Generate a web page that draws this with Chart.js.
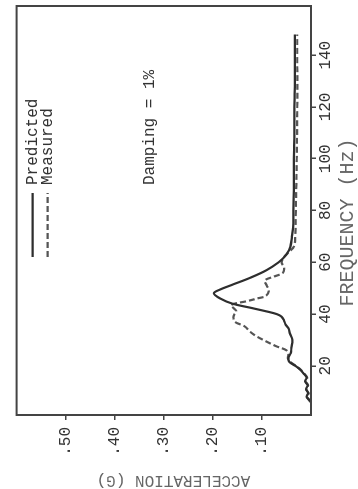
<!DOCTYPE html>
<html>
<head>
<meta charset="utf-8">
<script src="https://cdn.jsdelivr.net/npm/chart.js@4"></script>
<style>
  html, body { margin: 0; padding: 0; background: #fff; }
  body { width: 358px; height: 489px; overflow: hidden; position: relative; }
  /* the scanned page is turned a quarter turn, so the chart is drawn flat and rotated */
  #wrap {
    position: absolute; left: 0; top: 0;
    width: 489px; height: 358px;
    transform-origin: 0 0;
    transform: translate(0, 489px) rotate(-90deg);
  }
</style>
</head>
<body>
<div id="wrap"><canvas id="myChart" width="489" height="358"></canvas></div>
<script>
// values (frequency in Hz, acceleration in G)
var predFreq  = [6, 7, 8, 9.5, 11, 12.5, 14, 15.5, 17, 18.5, 20, 21.5, 23, 25, 27, 30, 32.5, 34.5, 36, 37.5, 39, 40, 41, 42.5, 44, 46, 48, 49.5, 51.5, 54, 57, 60, 63, 66, 70, 75, 80, 90, 100, 110, 120, 130, 140, 148];
var predAccel = [0.000, 0.004, 0.009, 0.006, 0.010, 0.007, 0.012, 0.009, 0.015, 0.022, 0.032, 0.044, 0.046, 0.041, 0.040, 0.038, 0.043, 0.046, 0.052, 0.055, 0.060, 0.070, 0.090, 0.125, 0.160, 0.185, 0.198, 0.185, 0.158, 0.124, 0.090, 0.066, 0.050, 0.042, 0.039, 0.036, 0.036, 0.035, 0.035, 0.034, 0.034, 0.033, 0.033, 0.033];

var measFreq  = [6, 8, 9.5, 11, 12.5, 14, 15.5, 17, 18.5, 20, 21.5, 23, 24.5, 26, 27.5, 29.5, 31.5, 33.3, 35.2, 37, 38.5, 40, 41, 42, 43.5, 45, 46, 47, 49, 51, 53, 54.5, 56, 58, 60, 62, 64, 66, 70, 80, 90, 100, 120, 140, 148];
var measAccel = [0.001, 0.008, 0.005, 0.010, 0.006, 0.011, 0.008, 0.014, 0.021, 0.031, 0.042, 0.047, 0.046, 0.050, 0.070, 0.092, 0.112, 0.125, 0.135, 0.155, 0.158, 0.156, 0.152, 0.156, 0.163, 0.130, 0.110, 0.092, 0.086, 0.090, 0.094, 0.075, 0.057, 0.055, 0.060, 0.055, 0.045, 0.035, 0.032, 0.031, 0.030, 0.029, 0.028, 0.028, 0.028];

var seriesNames = ["Predicted", "Measured"];
var freqTicks  = [20, 40, 60, 80, 100, 120, 140];
var accelTicks = [0.10, 0.20, 0.30, 0.40, 0.50];
var noteText = "Damping = 1%";

var ink = "#333333";
var mono = "'Liberation Mono', 'DejaVu Sans Mono', monospace";

function toPoints(xs, ys) {
  return xs.map(function (x, i) { return {x: x, y: ys[i]}; });
}

function isTick(list, v) {
  return list.some(function (t) { return Math.abs(t - v) < 1e-6; });
}

// frame round the plot, legend and note inside it
var framePlugin = {
  id: "frame",
  afterDraw: function (chart) {
    var ctx = chart.ctx, a = chart.chartArea;
    ctx.save();
    ctx.strokeStyle = "#444444";
    ctx.lineWidth = 2;
    ctx.strokeRect(a.left, a.top, a.right - a.left, a.bottom - a.top);

    ctx.font = "16px " + mono;
    ctx.fillStyle = ink;
    ctx.textBaseline = "middle";
    ctx.textAlign = "left";
    chart.data.datasets.forEach(function (ds, i) {
      var y = a.top + 16 + i * 15;
      ctx.beginPath();
      ctx.strokeStyle = ds.borderColor;
      ctx.lineWidth = 2.2;
      ctx.setLineDash(ds.borderDash || []);
      ctx.moveTo(a.left + 158, y);
      ctx.lineTo(a.left + 222, y);
      ctx.stroke();
      ctx.fillText(ds.label, a.left + 230, y);
    });
    ctx.setLineDash([]);
    ctx.fillText(noteText, a.left + 230, a.top + 133);
    ctx.restore();
  }
};

new Chart("myChart", {
  type: "line",
  data: {
    datasets: [{
      label: seriesNames[0],
      data: toPoints(predFreq, predAccel),
      borderColor: "#2e2e2e",
      borderWidth: 2.2,
      pointRadius: 0,
      tension: 0.35
    }, {
      label: seriesNames[1],
      data: toPoints(measFreq, measAccel),
      borderColor: "#555555",
      borderWidth: 2.2,
      borderDash: [6, 3],
      pointRadius: 0,
      tension: 0.35
    }]
  },
  options: {
    responsive: false,
    animation: false,
    devicePixelRatio: 1,
    layout: {padding: {top: 7, right: 6, left: 0, bottom: 0}},
    plugins: {legend: {display: false}, tooltip: {enabled: false}},
    scales: {
      x: {
        type: "linear",
        min: 1,
        max: 159,
        afterFit: function (s) { s.height = 47; },
        border: {display: false},
        grid: {drawOnChartArea: false, drawTicks: true, tickLength: 5, color: "#444444", lineWidth: 1.5},
        ticks: {
          stepSize: 20,
          includeBounds: false,
          maxRotation: 0,
          padding: 0,
          color: ink,
          font: {family: mono, size: 16},
          callback: function (v) { return isTick(freqTicks, v) ? String(v) : ""; }
        },
        title: {
          display: true,
          text: "FREQUENCY (Hz)  ",
          color: "#666",
          font: {family: mono, size: 20, lineHeight: 1},
          padding: 0
        }
      },
      y: {
        type: "linear",
        min: 0,
        max: 0.6,
        afterFit: function (s) { s.width = 74; },
        border: {display: false},
        grid: {
          drawOnChartArea: false, drawTicks: true, tickLength: 5, lineWidth: 1.5,
          color: function (c) { return c.tick && isTick(accelTicks, c.tick.value) ? "#444444" : "rgba(0,0,0,0)"; }
        },
        ticks: {
          stepSize: 0.1,
          padding: 7,
          color: ink,
          font: {family: mono, size: 16},
          callback: function (v) { return isTick(accelTicks, v) ? v.toFixed(2).replace(/^0/, "") : ""; }
        },
        title: {
          display: true,
          text: "ACCELERATION (G)  ",
          color: "#666",
          font: {family: mono, size: 16, lineHeight: 1.1},
          padding: 0
        }
      }
    }
  },
  plugins: [framePlugin]
});
</script>
</body>
</html>
